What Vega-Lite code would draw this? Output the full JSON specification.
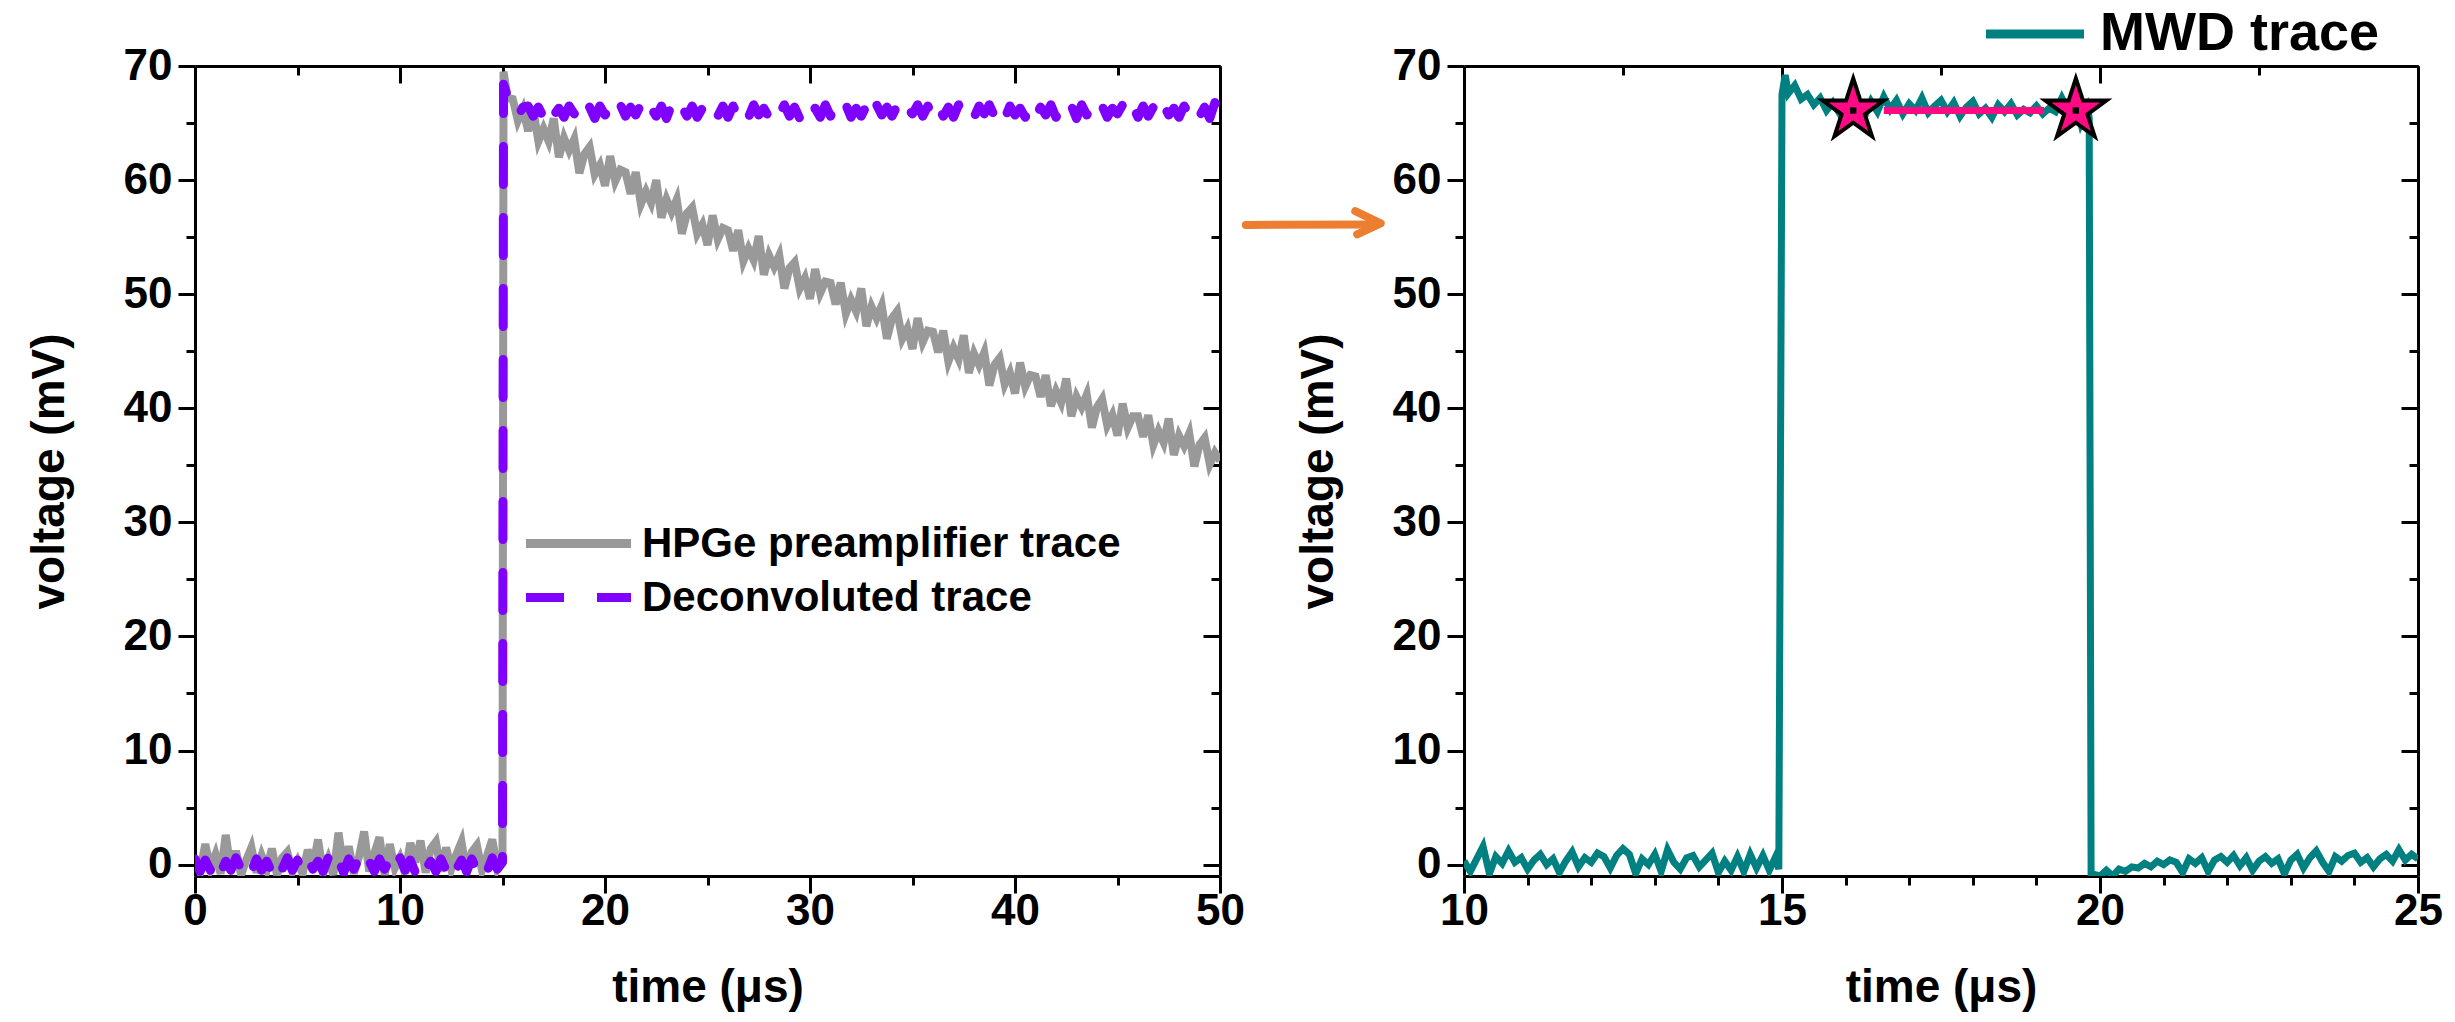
{
"$schema":"https://vega.github.io/schema/vega-lite/v6.json",
"background":"white",
"padding":{"left":26,"top":7,"right":10,"bottom":5},
"bounds":"flush",
"spacing":244,
"datasets":{
"gray":[{"t":0,"v":0.5},{"t":0.25,"v":-0.6},{"t":0.5,"v":1.8},{"t":0.75,"v":-0.3},{"t":1,"v":0.9},{"t":1.25,"v":-0.8},{"t":1.5,"v":2.6},{"t":1.75,"v":-0.5},{"t":2,"v":1.2},{"t":2.25,"v":-0.9},{"t":2.5,"v":0.4},{"t":2.75,"v":1.5},{"t":3,"v":-0.7},{"t":3.25,"v":0.8},{"t":3.5,"v":-0.4},{"t":3.75,"v":1.4},{"t":4,"v":-0.9},{"t":4.25,"v":0.6},{"t":4.5,"v":1.1},{"t":4.75,"v":-0.6},{"t":5,"v":0.3},{"t":5.25,"v":-0.8},{"t":5.5,"v":1.3},{"t":5.75,"v":-0.2},{"t":6,"v":2.2},{"t":6.25,"v":-0.7},{"t":6.5,"v":0.5},{"t":6.75,"v":-0.9},{"t":7,"v":2.8},{"t":7.25,"v":-0.4},{"t":7.5,"v":1.6},{"t":7.75,"v":-0.8},{"t":8,"v":0.7},{"t":8.25,"v":2.9},{"t":8.5,"v":-0.6},{"t":8.75,"v":1.0},{"t":9,"v":2.4},{"t":9.25,"v":-0.9},{"t":9.5,"v":1.8},{"t":9.75,"v":-0.3},{"t":10,"v":0.6},{"t":10.25,"v":-0.8},{"t":10.5,"v":1.9},{"t":10.75,"v":0.2},{"t":11,"v":2.1},{"t":11.25,"v":-0.7},{"t":11.5,"v":1.4},{"t":11.75,"v":2.0},{"t":12,"v":-0.6},{"t":12.25,"v":1.5},{"t":12.5,"v":-0.4},{"t":12.75,"v":0.9},{"t":13,"v":2.0},{"t":13.25,"v":-0.8},{"t":13.5,"v":1.1},{"t":13.75,"v":1.7},{"t":14,"v":-0.5},{"t":14.25,"v":0.8},{"t":14.5,"v":2.2},{"t":14.75,"v":-0.3},{"t":15,"v":0.6},{"t":15.05,"v":69.5},{"t":15.25,"v":67.2},{"t":15.5,"v":67.1},{"t":15.75,"v":65.2},
{"t":16,"v":66.2},{"t":16.25,"v":64.3},{"t":16.5,"v":66.2},{"t":16.75,"v":63.4},{"t":17,"v":64.5},{"t":17.25,"v":63.4},{"t":17.5,"v":65.4},{"t":17.75,"v":62.0},{"t":18,"v":63.7},{"t":18.25,"v":62.6},{"t":18.5,"v":63.6},{"t":18.75,"v":60.6},{"t":19,"v":62.3},{"t":19.25,"v":62.9},{"t":19.5,"v":60.5},{"t":19.75,"v":61.3},{"t":20,"v":59.5},{"t":20.25,"v":62.1},{"t":20.5,"v":59.9},{"t":20.75,"v":60.9},{"t":21,"v":60.7},{"t":21.25,"v":58.8},{"t":21.5,"v":60.7},{"t":21.75,"v":57.9},{"t":22,"v":59.0},{"t":22.25,"v":58.0},{"t":22.5,"v":60.0},{"t":22.75,"v":56.7},{"t":23,"v":58.3},{"t":23.25,"v":57.2},{"t":23.5,"v":58.3},{"t":23.75,"v":55.3},{"t":24,"v":57.1},{"t":24.25,"v":57.6},{"t":24.5,"v":55.3},{"t":24.75,"v":56.1},{"t":25,"v":54.3},{"t":25.25,"v":56.9},{"t":25.5,"v":54.8},{"t":25.75,"v":55.8},{"t":26,"v":55.6},{"t":26.25,"v":53.8},{"t":26.5,"v":55.6},{"t":26.75,"v":52.9},{"t":27,"v":54.0},{"t":27.25,"v":53.0},{"t":27.5,"v":55.1},{"t":27.75,"v":51.7},{"t":28,"v":53.4},{"t":28.25,"v":52.4},{"t":28.5,"v":53.4},{"t":28.75,"v":50.5},{"t":29,"v":52.3},{"t":29.25,"v":52.8},{"t":29.5,"v":50.5},{"t":29.75,"v":51.4},{"t":30,"v":49.6},{"t":30.25,"v":52.2},{"t":30.5,"v":50.1},{"t":30.75,"v":51.1},{"t":31,"v":51.0},{"t":31.25,"v":49.1},{"t":31.5,"v":51.0},{"t":31.75,"v":48.3},{"t":32,"v":49.5},{"t":32.25,"v":48.5},{"t":32.5,"v":50.5},{"t":32.75,"v":47.2},{"t":33,"v":48.9},{"t":33.25,"v":47.9},{"t":33.5,"v":49.0},{"t":33.75,"v":46.1},{"t":34,"v":47.9},{"t":34.25,"v":48.5},{"t":34.5,"v":46.1},{"t":34.75,"v":47.0},{"t":35,"v":45.2},{"t":35.25,"v":47.9},{"t":35.5,"v":45.8},{"t":35.75,"v":46.8},{"t":36,"v":46.7},{"t":36.25,"v":44.9},{"t":36.5,"v":46.8},{"t":36.75,"v":44.1},{"t":37,"v":45.3},{"t":37.25,"v":44.3},{"t":37.5,"v":46.4},{"t":37.75,"v":43.1},{"t":38,"v":44.8},{"t":38.25,"v":43.8},{"t":38.5,"v":44.9},{"t":38.75,"v":42.0},{"t":39,"v":43.8},{"t":39.25,"v":44.4},{"t":39.5,"v":42.1},{"t":39.75,"v":43.1},{"t":40,"v":41.3},{"t":40.25,"v":44.0},{"t":40.5,"v":41.9},{"t":40.75,"v":42.9},{"t":41,"v":42.8},{"t":41.25,"v":41.0},{"t":41.5,"v":42.9},{"t":41.75,"v":40.2},{"t":42,"v":41.5},{"t":42.25,"v":40.5},{"t":42.5,"v":42.6},{"t":42.75,"v":39.3},{"t":43,"v":41.0},{"t":43.25,"v":40.1},{"t":43.5,"v":41.2},{"t":43.75,"v":38.3},{"t":44,"v":40.1},{"t":44.25,"v":40.8},{"t":44.5,"v":38.5},{"t":44.75,"v":39.4},{"t":45,"v":37.6},{"t":45.25,"v":40.4},{"t":45.5,"v":38.3},{"t":45.75,"v":39.3},{"t":46,"v":39.3},{"t":46.25,"v":37.5},{"t":46.5,"v":39.4},{"t":46.75,"v":36.8},{"t":47,"v":38.0},{"t":47.25,"v":37.0},{"t":47.5,"v":39.1},{"t":47.75,"v":35.9},{"t":48,"v":37.6},{"t":48.25,"v":36.7},{"t":48.5,"v":37.8},{"t":48.75,"v":34.9},{"t":49,"v":36.8},{"t":49.25,"v":37.4},{"t":49.5,"v":35.1},{"t":49.75,"v":36.1},{"t":50,"v":35.4}],
"purple":[{"t":0,"v":0.5},{"t":0.25,"v":-0.6},{"t":0.5,"v":0.4},{"t":0.75,"v":-0.5},{"t":1,"v":0.5},{"t":1.25,"v":-0.7},{"t":1.5,"v":0.3},{"t":1.75,"v":-0.5},{"t":2,"v":0.6},{"t":2.25,"v":-0.4},{"t":2.5,"v":0.4},{"t":2.75,"v":-0.6},{"t":3,"v":0.5},{"t":3.25,"v":-0.5},{"t":3.5,"v":0.3},{"t":3.75,"v":-0.7},{"t":4,"v":0.5},{"t":4.25,"v":-0.4},{"t":4.5,"v":0.6},{"t":4.75,"v":-0.5},{"t":5,"v":0.4},{"t":5.25,"v":-0.6},{"t":5.5,"v":0.5},{"t":5.75,"v":-0.4},{"t":6,"v":0.3},{"t":6.25,"v":-0.6},{"t":6.5,"v":0.6},{"t":6.75,"v":-0.5},{"t":7,"v":0.4},{"t":7.25,"v":-0.7},{"t":7.5,"v":0.5},{"t":7.75,"v":-0.4},{"t":8,"v":0.6},{"t":8.25,"v":-0.5},{"t":8.5,"v":0.3},{"t":8.75,"v":-0.6},{"t":9,"v":0.5},{"t":9.25,"v":-0.4},{"t":9.5,"v":0.4},{"t":9.75,"v":-0.6},{"t":10,"v":0.6},{"t":10.25,"v":-0.5},{"t":10.5,"v":0.4},{"t":10.75,"v":-0.7},{"t":11,"v":0.5},{"t":11.25,"v":-0.4},{"t":11.5,"v":0.3},{"t":11.75,"v":-0.6},{"t":12,"v":0.5},{"t":12.25,"v":-0.5},{"t":12.5,"v":0.6},{"t":12.75,"v":-0.4},{"t":13,"v":0.4},{"t":13.25,"v":-0.6},{"t":13.5,"v":0.5},{"t":13.75,"v":-0.5},{"t":14,"v":0.3},{"t":14.25,"v":-0.6},{"t":14.5,"v":0.6},{"t":14.75,"v":-0.4},{"t":15,"v":0.2},{"t":15.05,"v":68.4},{"t":15.25,"v":67.3},{"t":15.5,"v":66.2},{"t":15.75,"v":65.6},{"t":16,"v":66.4},
{"t":16.25,"v":66.5},{"t":16.5,"v":65.6},{"t":16.75,"v":66.4},{"t":17,"v":65.5},{"t":17.25,"v":66.6},{"t":17.5,"v":65.7},{"t":17.75,"v":66.3},{"t":18,"v":65.5},{"t":18.25,"v":66.5},{"t":18.5,"v":65.8},{"t":18.75,"v":66.6},{"t":19,"v":65.6},{"t":19.25,"v":66.4},{"t":19.5,"v":65.4},{"t":19.75,"v":66.5},{"t":20,"v":65.7},{"t":20.25,"v":66.3},{"t":20.5,"v":65.5},{"t":20.75,"v":66.6},{"t":21,"v":65.6},
{"t":21.25,"v":66.4},{"t":21.5,"v":65.7},{"t":21.75,"v":66.6},{"t":22,"v":65.5},{"t":22.25,"v":66.3},{"t":22.5,"v":65.6},{"t":22.75,"v":66.5},{"t":23,"v":65.4},{"t":23.25,"v":66.6},{"t":23.5,"v":65.7},{"t":23.75,"v":66.4},{"t":24,"v":65.6},{"t":24.25,"v":66.5},{"t":24.5,"v":65.5},{"t":24.75,"v":66.3},{"t":25,"v":65.8},{"t":25.25,"v":66.6},{"t":25.5,"v":65.6},{"t":25.75,"v":66.5},{"t":26,"v":65.5},
{"t":26.25,"v":66.5},{"t":26.5,"v":65.6},{"t":26.75,"v":66.4},{"t":27,"v":65.5},{"t":27.25,"v":66.6},{"t":27.5,"v":65.7},{"t":27.75,"v":66.3},{"t":28,"v":65.5},{"t":28.25,"v":66.5},{"t":28.5,"v":65.8},{"t":28.75,"v":66.6},{"t":29,"v":65.6},{"t":29.25,"v":66.4},{"t":29.5,"v":65.4},{"t":29.75,"v":66.5},{"t":30,"v":65.7},{"t":30.25,"v":66.3},{"t":30.5,"v":65.5},{"t":30.75,"v":66.6},{"t":31,"v":65.6},
{"t":31.25,"v":66.4},{"t":31.5,"v":65.7},{"t":31.75,"v":66.6},{"t":32,"v":65.5},{"t":32.25,"v":66.3},{"t":32.5,"v":65.6},{"t":32.75,"v":66.5},{"t":33,"v":65.4},{"t":33.25,"v":66.6},{"t":33.5,"v":65.7},{"t":33.75,"v":66.4},{"t":34,"v":65.6},{"t":34.25,"v":66.5},{"t":34.5,"v":65.5},{"t":34.75,"v":66.3},{"t":35,"v":65.8},{"t":35.25,"v":66.6},{"t":35.5,"v":65.6},{"t":35.75,"v":66.5},{"t":36,"v":65.5},
{"t":36.25,"v":66.5},{"t":36.5,"v":65.6},{"t":36.75,"v":66.4},{"t":37,"v":65.5},{"t":37.25,"v":66.6},{"t":37.5,"v":65.7},{"t":37.75,"v":66.3},{"t":38,"v":65.5},{"t":38.25,"v":66.5},{"t":38.5,"v":65.8},{"t":38.75,"v":66.6},{"t":39,"v":65.6},{"t":39.25,"v":66.4},{"t":39.5,"v":65.4},{"t":39.75,"v":66.5},{"t":40,"v":65.7},{"t":40.25,"v":66.3},{"t":40.5,"v":65.5},{"t":40.75,"v":66.6},{"t":41,"v":65.6},
{"t":41.25,"v":66.4},{"t":41.5,"v":65.7},{"t":41.75,"v":66.6},{"t":42,"v":65.5},{"t":42.25,"v":66.3},{"t":42.5,"v":65.6},{"t":42.75,"v":66.5},{"t":43,"v":65.4},{"t":43.25,"v":66.6},{"t":43.5,"v":65.7},{"t":43.75,"v":66.4},{"t":44,"v":65.6},{"t":44.25,"v":66.5},{"t":44.5,"v":65.5},{"t":44.75,"v":66.3},{"t":45,"v":65.8},{"t":45.25,"v":66.6},{"t":45.5,"v":65.6},{"t":45.75,"v":66.5},{"t":46,"v":65.5},
{"t":46.25,"v":66.5},{"t":46.5,"v":65.6},{"t":46.75,"v":66.4},{"t":47,"v":65.5},{"t":47.25,"v":66.6},{"t":47.5,"v":65.7},{"t":47.75,"v":66.3},{"t":48,"v":65.5},{"t":48.25,"v":66.5},{"t":48.5,"v":65.8},{"t":48.75,"v":66.6},{"t":49,"v":65.6},{"t":49.25,"v":66.4},{"t":49.5,"v":65.4},{"t":49.75,"v":66.8},{"t":50,"v":65.9}],
"mwd":[{"t":10,"v":0.3},{"t":10.1,"v":-0.6},{"t":10.2,"v":0.5},{"t":10.3,"v":1.6},{"t":10.4,"v":-0.8},{"t":10.5,"v":0.7},{"t":10.6,"v":0.1},{"t":10.7,"v":1.2},{"t":10.8,"v":0.2},{"t":10.9,"v":0.6},{"t":11,"v":-0.4},{"t":11.1,"v":0.4},{"t":11.2,"v":0.9},{"t":11.3,"v":0},{"t":11.4,"v":0.5},{"t":11.5,"v":-0.7},{"t":11.6,"v":0.3},{"t":11.7,"v":1.1},{"t":11.8,"v":-0.2},{"t":11.9,"v":0.6},{"t":12,"v":0.2},{"t":12.1,"v":1},{"t":12.2,"v":0.7},{"t":12.3,"v":-0.3},{"t":12.4,"v":0.8},{"t":12.5,"v":1.4},{"t":12.6,"v":0.9},{"t":12.7,"v":-0.8},{"t":12.8,"v":0.5},{"t":12.9,"v":0},{"t":13,"v":0.9},{"t":13.1,"v":-0.6},{"t":13.2,"v":1.3},{"t":13.3,"v":0.2},{"t":13.4,"v":-0.4},{"t":13.5,"v":0.6},{"t":13.6,"v":0.8},{"t":13.7,"v":-0.2},{"t":13.8,"v":0.4},{"t":13.9,"v":1},{"t":14,"v":-0.7},{"t":14.1,"v":0.3},{"t":14.2,"v":-0.5},{"t":14.3,"v":0.7},{"t":14.4,"v":-0.6},{"t":14.5,"v":0.9},{"t":14.6,"v":-0.3},{"t":14.7,"v":0.8},{"t":14.8,"v":-0.5},{"t":14.9,"v":0.7},{"t":14.95,"v":-0.4},{"t":15,"v":67.5},{"t":15.05,"v":69.2},{"t":15.1,"v":67.6},{"t":15.2,"v":68.3},{"t":15.3,"v":67.1},{"t":15.4,"v":67.5},{"t":15.5,"v":66.6},{"t":15.6,"v":67.2},{"t":15.7,"v":66.1},{"t":15.8,"v":66.8},{"t":15.9,"v":65.9},{"t":16,"v":66.4},{"t":16.1,"v":65.7},{"t":16.2,"v":66.3},{"t":16.3,"v":65.6},{"t":16.4,"v":66.9},{"t":16.5,"v":66},{"t":16.6,"v":67.3},{"t":16.7,"v":66.2},{"t":16.8,"v":67},{"t":16.9,"v":65.8},{"t":17,"v":66.7},{"t":17.1,"v":66.1},{"t":17.2,"v":67.2},{"t":17.3,"v":65.9},{"t":17.4,"v":66.5},{"t":17.5,"v":67},{"t":17.6,"v":66},{"t":17.7,"v":66.8},{"t":17.8,"v":65.6},{"t":17.9,"v":66.4},{"t":18,"v":66.9},{"t":18.1,"v":65.8},{"t":18.2,"v":66.3},{"t":18.3,"v":65.5},{"t":18.4,"v":66.6},{"t":18.5,"v":66},{"t":18.6,"v":66.7},{"t":18.7,"v":65.7},{"t":18.8,"v":66.2},{"t":18.9,"v":65.9},{"t":19,"v":66.5},{"t":19.1,"v":65.8},{"t":19.2,"v":66.3},{"t":19.3,"v":66},{"t":19.4,"v":67.2},{"t":19.5,"v":66.1},{"t":19.6,"v":67.4},{"t":19.7,"v":65},{"t":19.8,"v":66.3},{"t":19.83,"v":65.5},{"t":19.86,"v":-0.8},{"t":20,"v":-1.0},{"t":20.1,"v":-0.5},{"t":20.2,"v":-1.0},{"t":20.3,"v":-0.4},{"t":20.4,"v":-0.6},{"t":20.5,"v":-0.2},{"t":20.6,"v":-0.3},{"t":20.7,"v":0.1},{"t":20.8,"v":-0.2},{"t":20.9,"v":0.3},{"t":21,"v":0},{"t":21.1,"v":0.4},{"t":21.2,"v":0.2},{"t":21.3,"v":-0.7},{"t":21.4,"v":0.5},{"t":21.5,"v":0.1},{"t":21.6,"v":0.6},{"t":21.7,"v":-0.6},{"t":21.8,"v":0.4},{"t":21.9,"v":0.7},{"t":22,"v":0.2},{"t":22.1,"v":0.8},{"t":22.2,"v":-0.1},{"t":22.3,"v":0.6},{"t":22.4,"v":-0.5},{"t":22.5,"v":0.3},{"t":22.6,"v":0.7},{"t":22.7,"v":0.1},{"t":22.8,"v":0.5},{"t":22.9,"v":-0.8},{"t":23,"v":0.4},{"t":23.1,"v":0.9},{"t":23.2,"v":-0.3},{"t":23.3,"v":0.6},{"t":23.4,"v":1.2},{"t":23.5,"v":0.2},{"t":23.6,"v":-0.6},{"t":23.7,"v":0.7},{"t":23.8,"v":0.3},{"t":23.9,"v":0.8},{"t":24,"v":1},{"t":24.1,"v":0.2},{"t":24.2,"v":0.6},{"t":24.3,"v":-0.2},{"t":24.4,"v":0.5},{"t":24.5,"v":0.9},{"t":24.6,"v":0.3},{"t":24.7,"v":1.3},{"t":24.8,"v":0.4},{"t":24.9,"v":0.9},{"t":25,"v":0.5}],
"win":[{"t":16.6,"v":66.1},{"t":19.12,"v":66.1}],
"stars":[{"t":16.12,"v":66.1},{"t":19.62,"v":66.1}],
"arrow":[{"p":"shaft","o":1,"t":6.57,"v":56.07},{"p":"shaft","o":2,"t":8.62,"v":56.1},{"p":"head","o":1,"t":8.29,"v":57.27},{"p":"head","o":2,"t":8.69,"v":56.2},{"p":"head","o":3,"t":8.32,"v":55.25}]
},
"hconcat":[
{
"width":1025,"height":810,
"layer":[
{"data":{"name":"gray"},"mark":{"type":"line","strokeWidth":8,"clip":true},
"encoding":{
"x":{"field":"t","type":"quantitative","scale":{"domain":[0,50],"nice":false,"zero":false},
"axis":{"orient":"bottom","title":"time (μs)","values":[0,5,10,15,20,25,30,35,40,45,50],"labelExpr":"datum.value % 10 === 0 ? datum.label : ''","tickSize":{"condition":{"test":"datum.value % 10 === 0","value":17},"value":9}}},
"y":{"field":"v","type":"quantitative","scale":{"domain":[-1,70],"nice":false,"zero":false},
"axis":{"orient":"left","title":"voltage (mV)","values":[0,5,10,15,20,25,30,35,40,45,50,55,60,65,70],"labelExpr":"datum.value % 10 === 0 ? datum.label : ''","tickSize":{"condition":{"test":"datum.value % 10 === 0","value":17},"value":9}}},
"color":{"datum":"HPGe preamplifier trace","scale":{"domain":["HPGe preamplifier trace","Deconvoluted trace"],"range":["#999999","#7F00FF"]},
"legend":{"title":null,"orient":"none","legendX":358,"legendY":452,"symbolType":"M-2.5,0H2.5","symbolSize":1764,"symbolStrokeWidth":9,"labelOffset":38,"rowPadding":7,"labelFontSize":42}},
"strokeDash":{"datum":"HPGe preamplifier trace","scale":{"domain":["HPGe preamplifier trace","Deconvoluted trace"],"range":[[1,0],[38,33]]},
"legend":{"title":null,"orient":"none","legendX":358,"legendY":452,"symbolType":"M-2.5,0H2.5","symbolSize":1764,"symbolStrokeWidth":9,"labelOffset":38,"rowPadding":7,"labelFontSize":42}}
}},
{"data":{"name":"purple"},"mark":{"type":"line","strokeWidth":9,"clip":true,"strokeCap":"round","strokeJoin":"round"},
"encoding":{
"x":{"field":"t","type":"quantitative","axis":{"orient":"top","title":null,"labels":false,"values":[0,5,10,15,20,25,30,35,40,45,50],"tickSize":{"condition":{"test":"datum.value % 10 === 0","value":-17},"value":-9}}},
"y":{"field":"v","type":"quantitative","axis":{"orient":"right","title":null,"labels":false,"values":[0,5,10,15,20,25,30,35,40,45,50,55,60,65,70],"tickSize":{"condition":{"test":"datum.value % 10 === 0","value":-17},"value":-9}}},
"color":{"datum":"Deconvoluted trace"},
"strokeDash":{"datum":"Deconvoluted trace"}
}}
],
"resolve":{"axis":{"x":"independent","y":"independent"}}
},
{
"width":954,"height":810,
"layer":[
{"data":{"name":"mwd"},"mark":{"type":"line","strokeWidth":7,"clip":true},
"encoding":{
"x":{"field":"t","type":"quantitative","scale":{"domain":[10,25],"nice":false,"zero":false},
"axis":{"orient":"bottom","title":"time (μs)","values":[10,11,12,13,14,15,16,17,18,19,20,21,22,23,24,25],"labelExpr":"datum.value % 5 === 0 ? datum.label : ''","tickSize":{"condition":{"test":"datum.value % 5 === 0","value":17},"value":9}}},
"y":{"field":"v","type":"quantitative","scale":{"domain":[-1,70],"nice":false,"zero":false},
"axis":{"orient":"left","title":"voltage (mV)","values":[0,5,10,15,20,25,30,35,40,45,50,55,60,65,70],"labelExpr":"datum.value % 10 === 0 ? datum.label : ''","tickSize":{"condition":{"test":"datum.value % 10 === 0","value":17},"value":9}}},
"color":{"datum":"MWD trace","scale":{"domain":["MWD trace"],"range":["#008080"]},
"legend":{"title":null,"orient":"none","legendX":544,"legendY":-59,"symbolType":"M-2.5,0H2.5","symbolSize":1537,"symbolStrokeWidth":9,"labelOffset":38,"labelFontSize":54}}
}},
{"data":{"name":"win"},"mark":{"type":"line","strokeWidth":7,"color":"#FF0A84"},
"encoding":{
"x":{"field":"t","type":"quantitative","axis":{"orient":"top","title":null,"labels":false,"values":[10,12.5,15,17.5,20,22.5,25],"tickSize":{"condition":{"test":"datum.value % 5 === 0","value":-17},"value":-9}}},
"y":{"field":"v","type":"quantitative","axis":{"orient":"right","title":null,"labels":false,"values":[0,5,10,15,20,25,30,35,40,45,50,55,60,65,70],"tickSize":{"condition":{"test":"datum.value % 10 === 0","value":-17},"value":-9}}}
}},
{"data":{"name":"stars"},"mark":{"type":"point","shape":"M0,-1L0.2245,-0.309L0.9511,-0.309L0.3633,0.118L0.5878,0.809L0,0.382L-0.5878,0.809L-0.3633,0.118L-0.9511,-0.309L-0.2245,-0.309Z","filled":true,"fill":"#FF0A84","stroke":"#000000","strokeWidth":4,"size":4096,"opacity":1,"strokeJoin":"miter"},
"encoding":{"x":{"field":"t","type":"quantitative","axis":null},"y":{"field":"v","type":"quantitative","axis":null}}},
{"data":{"name":"stars"},"mark":{"type":"square","size":40,"color":"#000000","opacity":1},
"encoding":{"x":{"field":"t","type":"quantitative","axis":null},"y":{"field":"v","type":"quantitative","axis":null}}},
{"data":{"name":"arrow"},"mark":{"type":"line","strokeWidth":8,"color":"#ED7D31","strokeCap":"round","strokeJoin":"round","clip":false},
"encoding":{"x":{"field":"t","type":"quantitative","axis":null},"y":{"field":"v","type":"quantitative","axis":null},"detail":{"field":"p"},"order":{"field":"o"}}}
],
"resolve":{"axis":{"x":"independent","y":"independent"}}
}
],
"resolve":{"scale":{"x":"independent","y":"independent","color":"independent","strokeDash":"independent"},"legend":{"color":"independent","strokeDash":"independent"}},
"config":{
"view":{"stroke":null},
"font":"Liberation Sans, Arial, sans-serif",
"axis":{"domainColor":"#000000","domainWidth":3,"tickColor":"#000000","tickWidth":3,"grid":false,"labelFont":"Liberation Sans, Arial, sans-serif","labelFontSize":44,"labelFontWeight":"bold","labelColor":"#000000","titleFont":"Liberation Sans, Arial, sans-serif","titleFontSize":46,"titleFontWeight":"bold","titleColor":"#000000","labelOverlap":false,"labelFlush":false,"labelPadding":6},
"axisX":{"titlePadding":32,"labelPadding":-4},
"axisY":{"titlePadding":50},
"legend":{"labelFont":"Liberation Sans, Arial, sans-serif","labelFontWeight":"bold","labelColor":"#000000","labelLimit":800}
}
}
